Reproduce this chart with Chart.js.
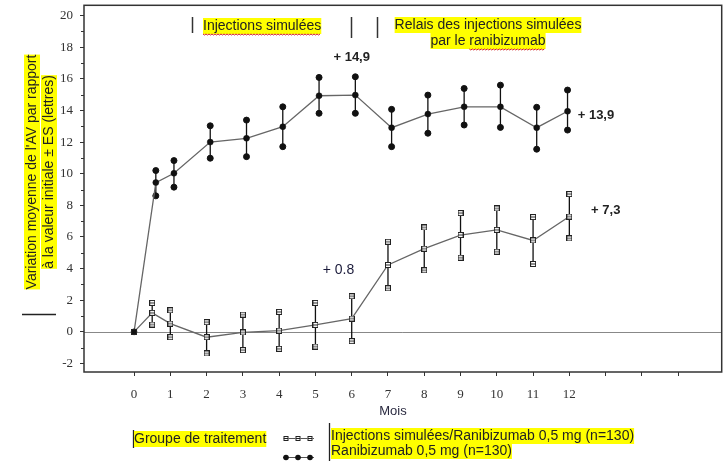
<!DOCTYPE html>
<html>
<head>
<meta charset="utf-8">
<script src="https://cdn.jsdelivr.net/npm/chart.js@4.4.1/dist/chart.umd.min.js"></script>
<style>
  html, body { margin: 0; padding: 0; background: #fff; }
  #wrap { width: 727px; height: 461px; }
</style>
</head>
<body>
<div id="wrap"><canvas id="chart" width="727" height="461"></canvas></div>
<script>
// ---- data ----
const xTickValues = [0, 1, 2, 3, 4, 5, 6, 7, 8, 9, 10, 11, 12, 13, 14, 15];
const xTickLabels = ["0", "1", "2", "3", "4", "5", "6", "7", "8", "9", "10", "11", "12"];
const yTickValues = [-2, 0, 2, 4, 6, 8, 10, 12, 14, 16, 18, 20];

// Injections simulées / Ranibizumab 0,5 mg (open squares)
const shamMonths = [0, 0.5, 1, 2, 3, 4, 5, 6, 7, 8, 9, 10, 11, 12];
const shamMean = [0, 1.2, 0.52, -0.34, -0.04, 0.08, 0.44, 0.84, 4.23, 5.26, 6.12, 6.45, 5.78, 7.29];
const shamUpper = [null, 1.83, 1.36, 0.61, 1.09, 1.26, 1.83, 2.25, 5.7, 6.6, 7.51, 7.8, 7.26, 8.71];
const shamLower = [null, 0.46, -0.34, -1.37, -1.16, -1.07, -0.93, -0.59, 2.75, 3.89, 4.69, 5.07, 4.29, 5.91];

// Ranibizumab 0,5 mg (filled circles)
const raniMonths = [0, 0.6, 1.1, 2.1, 3.1, 4.1, 5.1, 6.1, 7.1, 8.1, 9.1, 10.1, 11.1, 11.95];
const raniMean = [0, 9.44, 10.03, 12.0, 12.24, 12.97, 14.93, 14.97, 12.91, 13.77, 14.23, 14.23, 12.91, 13.95];
const raniUpper = [null, 10.2, 10.83, 13.03, 13.39, 14.23, 16.09, 16.13, 14.07, 14.97, 15.39, 15.6, 14.2, 15.29];
const raniLower = [null, 8.6, 9.15, 10.98, 11.08, 11.71, 13.82, 13.82, 11.71, 12.56, 13.08, 12.93, 11.55, 12.76];

const seriesLabels = ["Injections simulées/Ranibizumab 0,5 mg (n=130)", "Ranibizumab 0,5 mg (n=130)"];

const SANS = "'Liberation Sans', Arial, sans-serif";
const SERIF = "'Liberation Serif', 'Times New Roman', serif";
const YELLOW = "#ffff00";

const toPoints = (xs, ys) =>
  xs.map((x, i) => ({ x: x, y: ys[i] })).filter((p) => p.y !== null);

// small square marker with a line through the middle
const makeSquare = (filled) => {
  const c = document.createElement("canvas");
  c.width = 6;
  c.height = 6;
  const g = c.getContext("2d");
  g.fillStyle = filled ? "#111" : "#fff";
  g.fillRect(0, 0, 6, 6);
  g.strokeStyle = "#222";
  g.lineWidth = 1;
  g.strokeRect(0.5, 0.5, 5, 5);
  if (!filled) {
    g.beginPath();
    g.moveTo(1, 3);
    g.lineTo(5, 3);
    g.stroke();
  }
  return c;
};
const openSquare = makeSquare(false);
const filledSquare = makeSquare(true);

// text with a yellow highlight behind it
const highlight = (ctx, text, x, y, font, align) => {
  ctx.font = font;
  const w = ctx.measureText(text).width;
  const size = parseFloat(font.match(/(\d+(\.\d+)?)px/)[1]);
  let left = x;
  if (align === "center") left = x - w / 2;
  if (align === "right") left = x - w;
  ctx.fillStyle = YELLOW;
  ctx.fillRect(left, y - size / 2 - 1, w, size + 2);
  ctx.fillStyle = "#222";
  ctx.textAlign = "left";
  ctx.textBaseline = "middle";
  ctx.fillText(text, left, y);
  return { left: left, width: w };
};

const squiggle = (ctx, x1, x2, y) => {
  ctx.save();
  ctx.strokeStyle = "#d02020";
  ctx.lineWidth = 1;
  ctx.beginPath();
  for (let x = x1, k = 0; x <= x2; x += 1.5, k++) {
    const yy = y + (k % 2 ? 1 : 0);
    if (k === 0) ctx.moveTo(x, yy);
    else ctx.lineTo(x, yy);
  }
  ctx.stroke();
  ctx.restore();
};

const vbar = (ctx, x, y1, y2) => {
  ctx.beginPath();
  ctx.moveTo(x + 0.5, y1);
  ctx.lineTo(x + 0.5, y2);
  ctx.stroke();
};

const decor = {
  id: "decor",
  beforeDatasetsDraw(chart) {
    const { ctx, chartArea, scales } = chart;
    const xs = scales.x;
    const ys = scales.y;
    ctx.save();
    // zero line
    const y0 = Math.round(ys.getPixelForValue(0)) + 0.5;
    ctx.strokeStyle = "#888";
    ctx.lineWidth = 1;
    ctx.beginPath();
    ctx.moveTo(chartArea.left, y0);
    ctx.lineTo(chartArea.right, y0);
    ctx.stroke();
    // error bars
    ctx.strokeStyle = "#111";
    ctx.lineWidth = 1.3;
    const bars = (months, up, low) => {
      months.forEach((m, i) => {
        if (up[i] === null) return;
        const px = xs.getPixelForValue(m);
        ctx.beginPath();
        ctx.moveTo(px, ys.getPixelForValue(up[i]));
        ctx.lineTo(px, ys.getPixelForValue(low[i]));
        ctx.stroke();
      });
    };
    bars(shamMonths, shamUpper, shamLower);
    bars(raniMonths, raniUpper, raniLower);
    ctx.restore();
  },
  afterDraw(chart) {
    const { ctx, chartArea, scales } = chart;
    const xs = scales.x;
    const ys = scales.y;
    ctx.save();
    // plot frame
    ctx.strokeStyle = "#333";
    ctx.lineWidth = 1.5;
    ctx.strokeRect(chartArea.left, chartArea.top, chartArea.right - chartArea.left, chartArea.bottom - chartArea.top);
    // minor y ticks
    ctx.lineWidth = 1;
    for (let v = -1; v <= 19; v += 2) {
      const py = Math.round(ys.getPixelForValue(v)) + 0.5;
      ctx.beginPath();
      ctx.moveTo(chartArea.left - 3, py);
      ctx.lineTo(chartArea.left, py);
      ctx.stroke();
    }

    // header: treatment phases
    ctx.strokeStyle = "#333";
    ctx.lineWidth = 1.5;
    vbar(ctx, 192, 17, 33);
    vbar(ctx, 351, 17, 38);
    vbar(ctx, 377, 17, 38);
    const h1 = highlight(ctx, "Injections simulées", 203, 26, "14px " + SANS, "left");
    squiggle(ctx, h1.left, h1.left + h1.width, 34);
    highlight(ctx, "Relais des injections simulées", 488, 25, "14px " + SANS, "center");
    const h2 = highlight(ctx, "par le ranibizumab", 488, 41, "14px " + SANS, "center");
    ctx.font = "14px " + SANS;
    const skip = ctx.measureText("par le ").width;
    squiggle(ctx, h2.left + skip, h2.left + h2.width, 49);

    // value annotations
    ctx.fillStyle = "#222";
    ctx.textBaseline = "middle";
    ctx.textAlign = "center";
    ctx.font = "bold 13px " + SANS;
    ctx.fillText("+ 14,9", xs.getPixelForValue(6.0), ys.getPixelForValue(17.37));
    ctx.textAlign = "left";
    ctx.fillText("+ 13,9", xs.getPixelForValue(12.23), ys.getPixelForValue(13.7));
    ctx.fillText("+ 7,3", xs.getPixelForValue(12.6), ys.getPixelForValue(7.65));
    ctx.fillStyle = "#1a1a3a";
    ctx.font = "14px " + SANS;
    ctx.fillText("+ 0.8", xs.getPixelForValue(5.2), ys.getPixelForValue(3.93));

    // y axis title
    ctx.save();
    ctx.translate(32, 172);
    ctx.rotate(-Math.PI / 2);
    highlight(ctx, "Variation moyenne de l'AV par rapport", 0, 0, "14px " + SANS, "center");
    ctx.restore();
    ctx.save();
    ctx.translate(49, 172);
    ctx.rotate(-Math.PI / 2);
    highlight(ctx, "à la valeur initiale ± ES (lettres)", 0, 0, "14px " + SANS, "center");
    ctx.restore();
    ctx.strokeStyle = "#222";
    ctx.lineWidth = 1.3;
    ctx.beginPath();
    ctx.moveTo(22, 314.5);
    ctx.lineTo(56, 314.5);
    ctx.stroke();

    // x axis title
    ctx.fillStyle = "#2a2a40";
    ctx.font = "13px " + SANS;
    ctx.textAlign = "center";
    ctx.fillText("Mois", 393, 411);

    // legend
    ctx.strokeStyle = "#222";
    ctx.lineWidth = 1.3;
    vbar(ctx, 133, 430, 448);
    highlight(ctx, "Groupe de traitement", 134, 439, "14px " + SANS, "left");
    vbar(ctx, 329, 423, 464);
    highlight(ctx, seriesLabels[0], 331, 436, "14px " + SANS, "left");
    highlight(ctx, seriesLabels[1], 331, 451, "14px " + SANS, "left");
    // legend symbols
    ctx.strokeStyle = "#555";
    ctx.lineWidth = 1;
    ctx.beginPath();
    ctx.moveTo(283, 438.5);
    ctx.lineTo(314, 438.5);
    ctx.moveTo(283, 457.5);
    ctx.lineTo(314, 457.5);
    ctx.stroke();
    [286, 298, 310].forEach((sx) => {
      ctx.fillStyle = "#fff";
      ctx.fillRect(sx - 2.5, 436, 5, 5);
      ctx.strokeStyle = "#222";
      ctx.strokeRect(sx - 2, 436.5, 4, 4);
      ctx.beginPath();
      ctx.moveTo(sx - 2, 438.5);
      ctx.lineTo(sx + 2, 438.5);
      ctx.stroke();
      ctx.fillStyle = "#111";
      ctx.beginPath();
      ctx.arc(sx, 457.5, 2.8, 0, Math.PI * 2);
      ctx.fill();
    });
    ctx.restore();
  },
};

const squareStyle = (c) => (c.dataIndex === 0 ? filledSquare : openSquare);

new Chart(document.getElementById("chart"), {
  type: "scatter",
  data: {
    datasets: [
      {
        label: seriesLabels[0],
        data: toPoints(shamMonths, shamMean),
        showLine: true,
        borderColor: "#666",
        borderWidth: 1.3,
        pointStyle: squareStyle,
        pointRadius: 3,
      },
      {
        data: toPoints(shamMonths, shamUpper),
        pointStyle: openSquare,
        pointRadius: 3,
      },
      {
        data: toPoints(shamMonths, shamLower),
        pointStyle: openSquare,
        pointRadius: 3,
      },
      {
        label: seriesLabels[1],
        data: toPoints(raniMonths, raniMean),
        showLine: true,
        borderColor: "#666",
        borderWidth: 1.3,
        pointStyle: "circle",
        pointRadius: 3,
        pointBackgroundColor: "#111",
        pointBorderColor: "#111",
        pointBorderWidth: 0.5,
      },
      {
        data: toPoints(raniMonths, raniUpper),
        pointStyle: "circle",
        pointRadius: 3,
        pointBackgroundColor: "#111",
        pointBorderColor: "#111",
      },
      {
        data: toPoints(raniMonths, raniLower),
        pointStyle: "circle",
        pointRadius: 3,
        pointBackgroundColor: "#111",
        pointBorderColor: "#111",
      },
    ],
  },
  options: {
    responsive: false,
    animation: false,
    devicePixelRatio: 1,
    layout: { padding: { top: 5, right: 4, left: 0, bottom: 0 } },
    plugins: { legend: { display: false }, tooltip: { enabled: false } },
    scales: {
      x: {
        type: "linear",
        min: -1.38,
        max: 16.2,
        afterFit(s) {
          s.height = 89;
          s.paddingLeft = 0;
          s.paddingRight = 0;
        },
        afterBuildTicks(s) {
          s.ticks = xTickValues.map((v) => ({ value: v }));
        },
        ticks: {
          autoSkip: false,
          maxRotation: 0,
          padding: 11,
          color: "#333",
          font: { family: SERIF, size: 13 },
          callback: (v, i) => (xTickLabels[i] !== undefined ? xTickLabels[i] : ""),
        },
        grid: { drawOnChartArea: false, drawTicks: true, tickLength: 4, color: "#333" },
        border: { display: false },
      },
      y: {
        min: -2.54,
        max: 20.65,
        afterFit(s) {
          s.width = 84;
          s.paddingTop = 0;
          s.paddingBottom = 0;
        },
        afterBuildTicks(s) {
          s.ticks = yTickValues.map((v) => ({ value: v }));
        },
        ticks: {
          padding: 7,
          color: "#333",
          font: { family: SERIF, size: 13 },
        },
        grid: { drawOnChartArea: false, drawTicks: true, tickLength: 4, color: "#333" },
        border: { display: false },
      },
    },
  },
  plugins: [decor],
});
</script>
</body>
</html>
